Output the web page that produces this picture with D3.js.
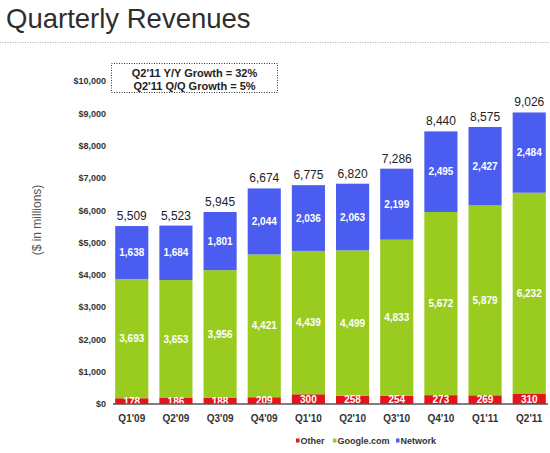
<!DOCTYPE html>
<html>
<head>
<meta charset="utf-8">
<script src="https://cdn.jsdelivr.net/npm/d3@7"></script>
<style>
html,body{margin:0;padding:0;background:#fff;}
svg{display:block;font-family:"Liberation Sans",Arial,Helvetica,sans-serif;}
</style>
</head>
<body>
<svg id="chart" width="550" height="453"></svg>
<script>
const quarters = ["Q1'09","Q2'09","Q3'09","Q4'09","Q1'10","Q2'10","Q3'10","Q4'10","Q1'11","Q2'11"];
const other = [178,186,188,209,300,258,254,273,269,310];
const googleCom = [3693,3653,3956,4421,4439,4499,4833,5672,5879,6232];
const network = [1638,1684,1801,2044,2036,2063,2199,2495,2427,2484];
const totals = [5509,5523,5945,6674,6775,6820,7286,8440,8575,9026];
const yTicks = [0,1000,2000,3000,4000,5000,6000,7000,8000,9000,10000];
const seriesNames = ["Other","Google.com","Network"];
const seriesColors = ["#e3141b","#99cc1f","#4a5df0"];
const growthLines = ["Q2'11 Y/Y Growth = 32%","Q2'11 Q/Q Growth = 5%"];

const svg = d3.select("#chart");

// Title
svg.append("text").attr("x",6).attr("y",28)
  .attr("font-size",27.5).attr("fill","#2e2e2e")
  .text("Quarterly Revenues");
svg.append("line").attr("x1",0).attr("x2",550).attr("y1",42.5).attr("y2",42.5)
  .attr("stroke","#aaa").attr("stroke-width",1).attr("stroke-dasharray","1,1.5");

const x = d3.scaleBand().domain(quarters).range([113,548]).paddingInner(0.25).paddingOuter(0.05);
const y = d3.scaleLinear().domain([0,10000]).range([404,81]);

// Y axis labels
const yAxis = d3.axisLeft(y).tickValues(yTicks).tickSize(0).tickPadding(0)
  .tickFormat(d => "$" + d3.format(",")(d));
const yg = svg.append("g").attr("transform","translate(106,0)").call(yAxis);
yg.select(".domain").remove();
yg.selectAll("text").attr("font-size",9).attr("font-weight","bold").attr("fill","#333")
  .attr("font-family","Liberation Sans, Arial, sans-serif");

// Y axis title
svg.append("text").attr("transform","translate(41,220) rotate(-90)")
  .attr("text-anchor","middle").attr("font-size",12).attr("fill","#555")
  .text("($ in millions)");

// Stacked data
const rows = quarters.map((q,i) => ({q, Other:other[i], "Google.com":googleCom[i], Network:network[i], total:totals[i]}));
const stack = d3.stack().keys(seriesNames)(rows);

const layers = svg.append("g").selectAll("g").data(stack).join("g")
  .attr("fill",(d,i)=>seriesColors[i]);
layers.selectAll("rect").data(d=>d).join("rect")
  .attr("x",d=>x(d.data.q)).attr("width",x.bandwidth())
  .attr("y",d=>y(d[1])).attr("height",d=>y(d[0])-y(d[1]));

// segment labels
const labels = svg.append("g").selectAll("g").data(stack).join("g");
labels.selectAll("text").data((d,i)=>d.map(v=>({v, key:seriesNames[i], idx:i}))).join("text")
  .attr("x",d=>x(d.v.data.q)+x.bandwidth()/2)
  .attr("y",d=>(y(d.v[0])+y(d.v[1]))/2)
  .attr("dy","0.36em")
  .attr("text-anchor","middle").attr("font-size",10).attr("font-weight","bold")
  .attr("fill","#fff")
  .text(d=>d3.format(",")(d.v.data[d.key]));

// totals
svg.append("g").selectAll("text").data(rows).join("text")
  .attr("x",d=>x(d.q)+x.bandwidth()/2).attr("y",d=>y(d.total)-6)
  .attr("text-anchor","middle").attr("font-size",12).attr("fill","#222")
  .text(d=>d3.format(",")(d.total));

// x axis
const xAxis = d3.axisBottom(x).tickSize(0).tickPadding(11);
const xg = svg.append("g").attr("transform","translate(0,404)").call(xAxis);
xg.select(".domain").attr("stroke","#555").attr("stroke-width",1.3).attr("d","M113,0H548");
xg.selectAll("text").attr("font-size",10).attr("font-weight","bold").attr("fill","#333")
  .attr("font-family","Liberation Sans, Arial, sans-serif");

// growth box
svg.append("rect").attr("x",111.5).attr("y",63.5).attr("width",166).attr("height",29)
  .attr("fill","none").attr("stroke","#333").attr("stroke-width",1).attr("stroke-dasharray","1,1.5");
svg.append("g").selectAll("text").data(growthLines).join("text")
  .attr("x",194.5).attr("y",(d,i)=>76.5+i*13)
  .attr("text-anchor","middle").attr("font-size",11).attr("font-weight","bold").attr("fill","#222")
  .text(d=>d);

// legend
const legendX = [296,333,396];
const lg = svg.append("g").selectAll("g").data(seriesNames).join("g")
  .attr("transform",(d,i)=>`translate(${legendX[i]},443)`);
lg.append("rect").attr("x",0).attr("y",-4.5).attr("width",3.5).attr("height",4).attr("fill",(d,i)=>seriesColors[i]);
lg.append("text").attr("x",4.5).attr("y",0).attr("dy","0.1em").attr("font-size",9).attr("font-weight","bold")
  .attr("fill","#333").text(d=>d);
</script>
</body>
</html>
